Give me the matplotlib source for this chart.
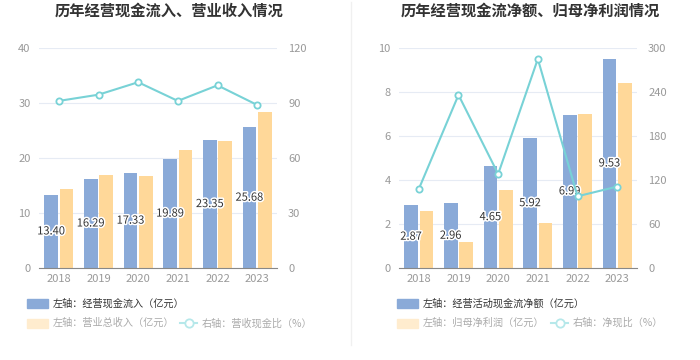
import matplotlib
matplotlib.use("Agg")
import matplotlib.pyplot as plt
import matplotlib.patheffects as pe
from matplotlib.patches import Rectangle
from matplotlib.lines import Line2D
import numpy as np

plt.rcParams["font.family"] = ["Noto Sans CJK SC", "DejaVu Sans"]

years = ["2018", "2019", "2020", "2021", "2022", "2023"]

# 左图：经营现金流入 / 营业总收入（亿元），营收现金比（%）
cash_in = [13.40, 16.29, 17.33, 19.89, 23.35, 25.68]
revenue = [14.4, 17.0, 16.8, 21.5, 23.2, 28.5]
cash_ratio = [91.3, 94.7, 101.5, 91.3, 99.8, 89.1]

# 右图：经营活动现金流净额 / 归母净利润（亿元），净现比（%）
net_cf = [2.87, 2.96, 4.65, 5.92, 6.99, 9.53]
net_profit = [2.61, 1.21, 3.56, 2.05, 7.0, 8.44]
net_ratio = [108.2, 236.4, 128.6, 285.5, 98.2, 111.4]

BLUE = "#8aaad8"
YELLOW = "#ffd899"
TEAL = "#78d2d6"
YELLOW_FADE = "#ffecce"
TEAL_FADE = "#b6e8ea"
GRID = "#e6ebf4"
TICK = "#999999"

W, H = 700, 360
fig = plt.figure(figsize=(7, 3.6), dpi=100)


def px_axes(x0, y_top, x1, y_bot):
    return fig.add_axes([x0 / W, 1 - y_bot / H, (x1 - x0) / W, (y_bot - y_top) / H])


def panel(x0, x1, bars_a, bars_b, line, lmax, lstep, rmax, rstep, fmt):
    ax = px_axes(x0, 48.3, x1, 268.3)
    x = np.arange(len(years))
    bw = 0.34
    ax.bar(x - bw / 2 - 0.025, bars_a, bw, color=BLUE, zorder=2)
    ax.bar(x + bw / 2 + 0.025, bars_b, bw, color=YELLOW, zorder=2)
    for xi, v in zip(x, bars_a):
        ax.text(xi - bw / 2 - 0.025, v / 2, fmt.format(v), ha="center", va="center",
                fontsize=8, color="#333333", zorder=5,
                path_effects=[pe.withStroke(linewidth=2.2, foreground="white")])
    ax.set_xlim(-0.5, len(years) - 0.5)
    ax.set_ylim(0, lmax)
    ax.set_yticks(np.arange(0, lmax + 0.001, lstep))
    ax.set_xticks(x)
    ax.set_xticklabels(years)
    ax.grid(axis="y", color=GRID, lw=0.8, zorder=0)
    for s in ["top", "right", "left"]:
        ax.spines[s].set_visible(False)
    ax.spines["bottom"].set_color("#888888")
    ax.tick_params(axis="both", length=0, colors=TICK, labelsize=8)
    ax.tick_params(axis="y", pad=6)
    ax.tick_params(axis="x", pad=4)

    ax2 = ax.twinx()
    ax2.plot(x, line, color=TEAL, lw=1.5, marker="o", ms=4.5, mfc="white",
             mec=TEAL, mew=1.3, zorder=4)
    ax2.set_ylim(0, rmax)
    ax2.set_yticks(np.arange(0, rmax + 0.001, rstep))
    for s in ax2.spines.values():
        s.set_visible(False)
    ax2.tick_params(axis="y", length=0, colors=TICK, labelsize=8, pad=8)
    ax.set_zorder(ax2.get_zorder() - 1)
    ax.patch.set_visible(False)
    return ax


panel(39, 277, cash_in, revenue, cash_ratio, 40, 10, 120, 30, "{:.2f}")
panel(399, 637, net_cf, net_profit, net_ratio, 10, 2, 300, 60, "{:.2f}")

# 标题
fig.text(169 / W, 1 - 11 / H, "历年经营现金流入、营业收入情况", ha="center", va="center",
         fontsize=11, fontweight="bold", color="#333333")
fig.text(530 / W, 1 - 11 / H, "历年经营现金流净额、归母净利润情况", ha="center", va="center",
         fontsize=11, fontweight="bold", color="#333333")

# 分隔线
fig.add_artist(Line2D([351 / W, 351 / W], [1 - 345 / H, 1 - 2 / H], color="#f0f0f0", lw=1))


def legend(x0, first, second, third, third_x):
    fig.add_artist(Rectangle((x0 / W, 1 - 308 / H), 21 / W, 9.5 / H, color=BLUE,
                             transform=fig.transFigure))
    fig.text((x0 + 26) / W, 1 - 303.5 / H, first, va="center", fontsize=7.3, color="#333333")
    fig.add_artist(Rectangle((x0 / W, 1 - 328 / H), 21 / W, 9.5 / H, color=YELLOW_FADE,
                             transform=fig.transFigure))
    fig.text((x0 + 26) / W, 1 - 323 / H, second, va="center", fontsize=7.3, color="#aaaaaa")
    fig.add_artist(Line2D([(third_x - 22) / W, (third_x - 5) / W], [1 - 323 / H] * 2,
                          color=TEAL_FADE, lw=1.5, marker=None))
    fig.add_artist(Line2D([(third_x - 13.5) / W], [1 - 323 / H], color=TEAL_FADE,
                          marker="o", ms=6, mfc="white", mec=TEAL_FADE, mew=1.3))
    fig.text(third_x / W, 1 - 323 / H, third, va="center", fontsize=7.3, color="#aaaaaa")


legend(27, "左轴：经营现金流入（亿元）", "左轴：营业总收入（亿元）", "右轴：营收现金比（%）", 202)
legend(397, "左轴：经营活动现金流净额（亿元）", "左轴：归母净利润（亿元）", "右轴：净现比（%）", 573)

fig.savefig("out.png", dpi=100)
